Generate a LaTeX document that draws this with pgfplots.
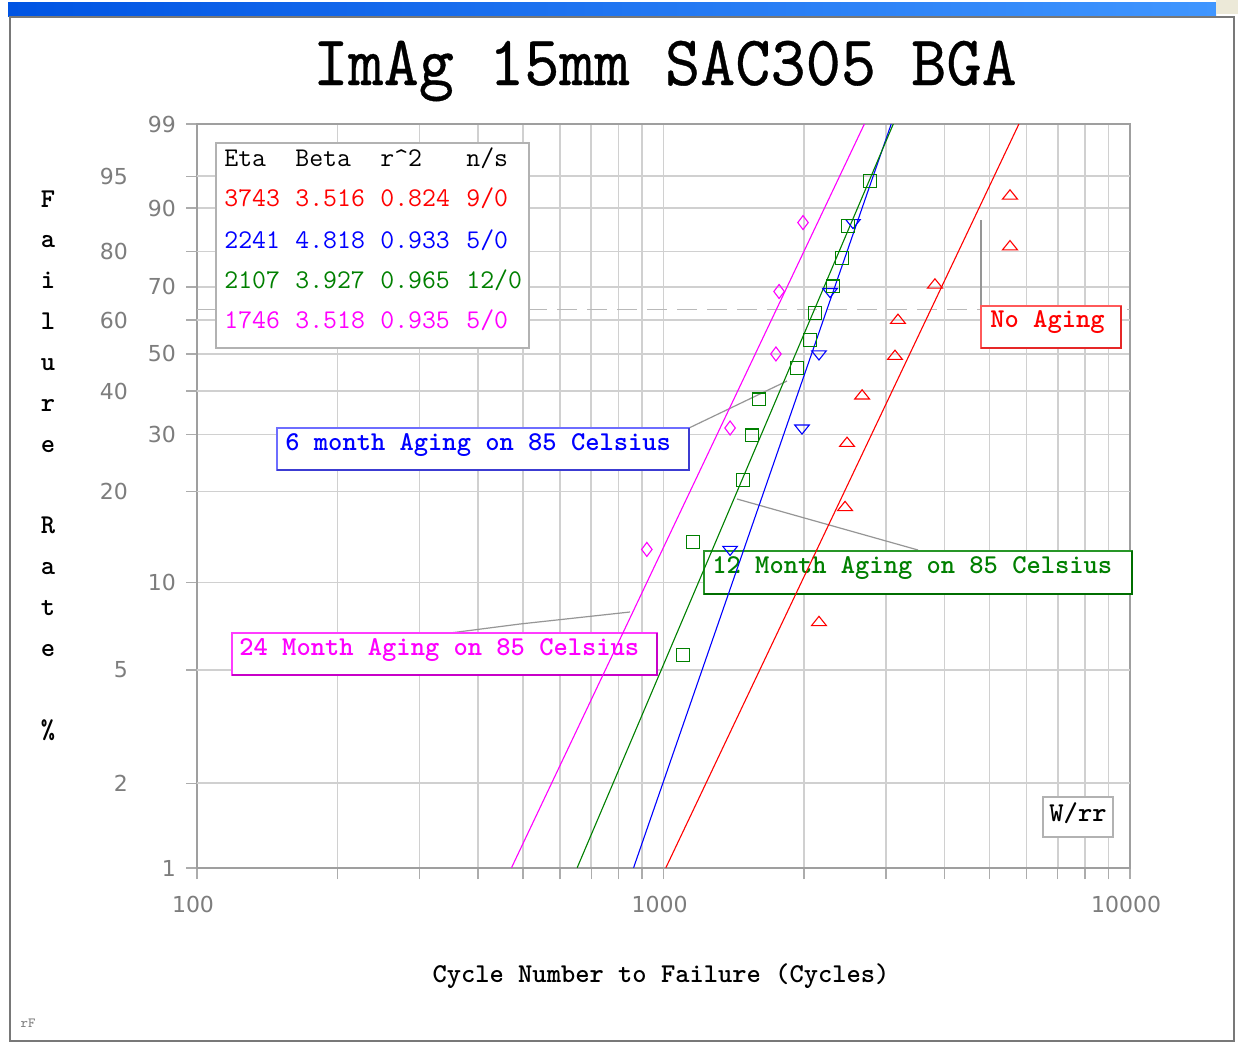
\documentclass[border=0pt]{standalone}
\usepackage{graphicx}
\usepackage{pgfplots}
\pgfplotsset{compat=1.18}
\usepackage{fontspec}
\setmainfont{Liberation Sans}
\newfontfamily\tickfont{DejaVu Sans}
\newfontfamily\titlefont{lmmono10-regular.otf}[FakeBold=0.5]

\definecolor{cRed}{RGB}{255,0,0}
\definecolor{cBlue}{RGB}{0,0,255}
\definecolor{cGreen}{RGB}{0,128,0}
\definecolor{cMag}{RGB}{255,0,255}
\definecolor{gridc}{RGB}{208,208,208}
\definecolor{tickc}{RGB}{125,125,125}
\definecolor{framec}{RGB}{120,120,120}
\definecolor{leadc}{RGB}{150,150,150}
\definecolor{dashc}{RGB}{185,185,185}
\definecolor{barL}{RGB}{0,84,227}
\definecolor{barR}{RGB}{64,150,255}
\definecolor{btnc}{RGB}{236,233,216}
\definecolor{bBlueL}{RGB}{110,110,255}
\definecolor{bBlueD}{RGB}{60,60,210}
\definecolor{bGreenL}{RGB}{40,150,40}
\definecolor{bGreenD}{RGB}{0,110,0}
\definecolor{bMagL}{RGB}{255,60,255}
\definecolor{bMagD}{RGB}{200,0,200}
\definecolor{bRedL}{RGB}{255,90,90}
\definecolor{bRedD}{RGB}{230,40,40}

\newcommand\monof{\ttfamily\fontsize{13.5}{14}\selectfont}
\newcommand\monob{\ttfamily\bfseries\fontsize{13.6}{14}\selectfont}

\begin{document}
\begin{tikzpicture}
\begin{scope}[x=0.5pt,y=-0.5pt]
  \useasboundingbox (0,0) rectangle (1238,1044);
  \fill[white] (0,0) rectangle (1238,1044);
  % window frame
  \shade[left color=barL, right color=barR] (8,2) rectangle (1216,16);
  \fill[btnc] (1216,0) rectangle (1238,14);
  \draw[framec, line width=1.2pt] (10,17) -- (10,1041) -- (1234,1041) -- (1234,17) -- cycle;
  % title
  \node[anchor=base, font=\titlefont\fontsize{33.5}{35}\selectfont, inner sep=0] at (665,85)
    {\scalebox{1}[1.06]{ImAg 15mm SAC305 BGA}};
  % axis title
  \node[font=\monob, inner sep=0, anchor=base] at (661,982) {Cycle Number to Failure (Cycles)};
  \foreach \c [count=\i from 0] in {F,a,i,l,u,r,e,{},R,a,t,e,{},\%}
    \node[font=\monob, inner sep=0, anchor=base] at (48,{207+40.85*\i}) {\c};
  \node[font=\ttfamily\fontsize{7}{7}\selectfont, text=gray, inner sep=0] at (28,1023) {rF};
\end{scope}

% Weibull probability paper: y = ln(-ln(1-F)), F in percent
% grid, ticks and the 63.2% reference line
\begin{axis}[
  at={(98.5pt,-434pt)}, anchor=south west,
  scale only axis, width=466.5pt, height=372pt,
  xmode=log, xmin=100, xmax=10000,
  ymin=-4.60015, ymax=1.52718,
  y filter/.expression={ln(-ln(1-y/100))},
  clip=false,
  xtick={100,1000,10000}, xticklabels={100,1000,10000},
  minor xtick={200,300,400,500,600,700,800,900,2000,3000,4000,5000,6000,7000,8000,9000},
  ytick={-4.60015,-2.25037,-1.03093,-0.36651,0.18563,0.83403,1.52718},
  yticklabels={1,10,30,50,70,90,99},
  extra y ticks={-3.90194,-2.97020,-1.49994,-0.67172,-0.08742,0.47588,1.09719},
  extra y tick labels={2,5,20,40,60,80,95},
  extra y tick style={grid=major, yticklabel style={xshift=-24pt}},
  grid=both,
  major grid style={draw=gridc, line width=0.8pt},
  minor grid style={draw=gridc, line width=0.8pt},
  axis line style={draw=gray!75, line width=0.8pt},
  tick style={draw=gray!65, line width=0.7pt},
  tick align=outside, tick pos=left,
  major tick length=5.5pt, minor tick length=5.5pt,
  ticklabel style={font=\tickfont\fontsize{11}{12}\selectfont, text=tickc},
  xticklabel style={yshift=-5pt, xshift=-2pt},
  yticklabel style={xshift=-1.5pt},
]
  \addplot[draw=dashc, line width=0.8pt, dash pattern=on 10pt off 5pt] coordinates {(100,63.212) (10000,63.212)};
\end{axis}

\begin{scope}[x=0.5pt,y=-0.5pt]
  % fit summary table
  \draw[fill=white, draw=gray!60, line width=0.7pt] (216,143) rectangle (529,348);
  \foreach \yy/\col/\a/\b/\c/\d in {
      158/black/Eta/Beta/r\textasciicircum 2/n\slash s,
      198/cRed/3743/3.516/0.824/9\slash 0,
      240/cBlue/2241/4.818/0.933/5\slash 0,
      280/cGreen/2107/3.927/0.965/12\slash 0,
      320/cMag/1746/3.518/0.935/5\slash 0} {
    \node[anchor=west, inner sep=0, font=\monof, text=\col] at (224,\yy) {\a};
    \node[anchor=west, inner sep=0, font=\monof, text=\col] at (295,\yy) {\b};
    \node[anchor=west, inner sep=0, font=\monof, text=\col] at (380,\yy) {\c};
    \node[anchor=west, inner sep=0, font=\monof, text=\col] at (466,\yy) {\d};
  }
  % leader lines
  \draw[leadc, line width=0.6pt] (689,428) -- (787,381);
  \draw[leadc, line width=0.6pt] (737,499) -- (918,550);
  \draw[leadc, line width=0.6pt] (450,633) -- (520,624) -- (630,612);
  \draw[leadc, line width=0.6pt] (981,220) -- (981,306);
  % series annotations
  \draw[fill=white, draw=bBlueL, line width=0.6pt] (277,428) rectangle (689,470);
  \draw[bBlueD, line width=1.3pt] (277,470) -- (689,470) -- (689,428);
  \node[anchor=west, inner sep=0, font=\monob, text=cBlue] at (285,445) {6 month Aging on 85 Celsius};

  \draw[fill=white, draw=bGreenL, line width=0.6pt] (704,551) rectangle (1132,594);
  \draw[bGreenD, line width=1.3pt] (704,594) -- (1132,594) -- (1132,551);
  \node[anchor=west, inner sep=0, font=\monob, text=cGreen] at (712,568) {12 Month Aging on 85 Celsius};

  \draw[fill=white, draw=bMagL, line width=0.6pt] (232,633) rectangle (657,675);
  \draw[bMagD, line width=1.3pt] (232,675) -- (657,675) -- (657,633);
  \node[anchor=west, inner sep=0, font=\monob, text=cMag] at (239,650) {24 Month Aging on 85 Celsius};

  \draw[fill=white, draw=bRedL, line width=0.6pt] (981,306) rectangle (1121,348);
  \draw[bRedD, line width=1.1pt] (981,348) -- (1121,348) -- (1121,306);
  \node[anchor=west, inner sep=0, font=\monob, text=cRed] at (990,322) {No Aging};

  \draw[fill=white, draw=gray!60, line width=0.6pt] (1043,797) rectangle (1113,837);
  \node[inner sep=0, font=\monob, text=black] at (1078,813) {W/rr};
\end{scope}

% fitted lines and failure data
\begin{axis}[
  at={(98.5pt,-434pt)}, anchor=south west,
  scale only axis, width=466.5pt, height=372pt,
  xmode=log, xmin=100, xmax=10000,
  ymin=-4.60015, ymax=1.52718,
  y filter/.expression={ln(-ln(1-y/100))},
  clip=false, hide axis,
]
  % No Aging: eta 3743, beta 3.516
  \addplot[cRed, line width=0.55pt] coordinates {(1011.6,1) (5779,99)};
  \addplot[only marks, cRed, mark=triangle, mark size=4.3pt,
    mark options={solid, yshift=-1.2pt, yscale=0.72, line width=0.55pt}] table {
t F
2154 7.45
2450 18.09
2474 28.72
2665 39.36
3135 50.00
3181 60.64
3819 71.28
5530 81.91
5530 92.55
};
  % 6 month aging: eta 2241, beta 4.818
  \addplot[cBlue, line width=0.55pt] coordinates {(862.6,1) (3076.9,99)};
  \addplot[only marks, cBlue, mark=triangle, mark size=4.2pt,
    mark options={solid, rotate=180, yscale=0.72, line width=0.55pt}] table {
t F
1389 12.94
1981 31.38
2154 50.00
2275 68.62
2548 87.06
};
  % 12 month aging: eta 2107, beta 3.927
  \addplot[cGreen, line width=0.55pt] coordinates {(653.0,1) (3108.6,99)};
  \addplot[only marks, cGreen, mark=square, mark size=3.2pt,
    mark options={solid, line width=0.55pt}] table {
t F
1101 5.65
1157 13.71
1480 21.77
1548 29.84
1603 37.90
1932 45.97
2061 54.03
2112 62.10
2309 70.16
2414 78.23
2486 86.29
2772 94.35
};
  % 24 month aging: eta 1746, beta 3.518
  \addplot[cMag, line width=0.55pt] coordinates {(472.2,1) (2695.1,99)};
  \addplot[only marks, cMag, mark=diamond, mark size=3.5pt,
    mark options={solid, line width=0.55pt}] table {
t F
921 12.94
1389 31.38
1742 50.00
1769 68.62
1991 87.06
};
\end{axis}
\end{tikzpicture}
\end{document}
